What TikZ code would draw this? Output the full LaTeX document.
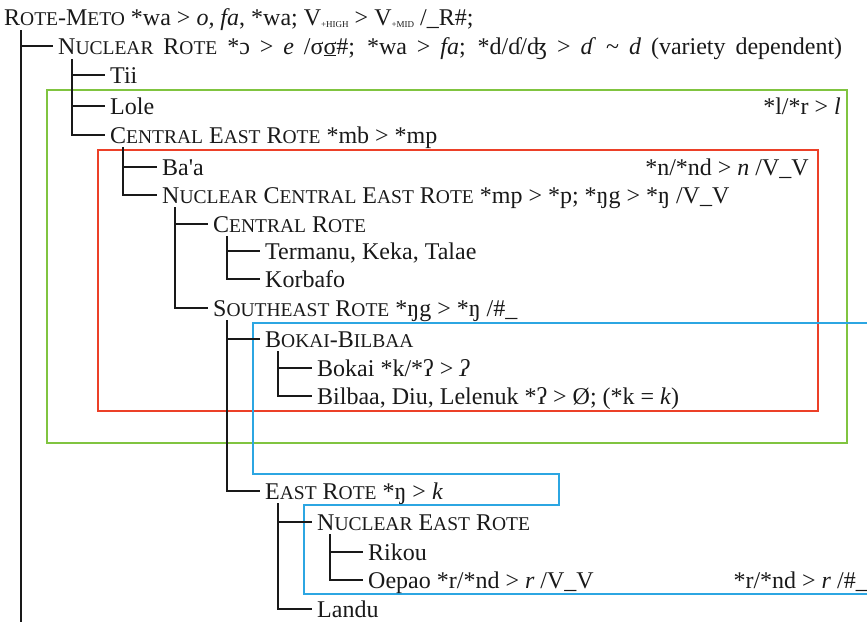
\documentclass[tikz,border=0pt]{standalone}
\usepackage{fontspec}
\setmainfont{Liberation Serif}
\usetikzlibrary{calc}
\definecolor{gboxc}{RGB}{128,196,64}
\definecolor{rboxc}{RGB}{236,64,40}
\definecolor{bboxc}{RGB}{44,166,226}
\definecolor{inkc}{RGB}{25,25,25}
\newcommand\smc[1]{{\fontsize{19.5}{19.5}\selectfont #1}}
\newcommand\subsc[1]{\raisebox{-2.5pt}{\fontsize{9}{9}\selectfont #1}}
\tikzset{
  lbl/.style={inner sep=0pt, anchor=west, text height=18pt, text depth=2pt, text=inkc,
              font=\fontsize{24}{24}\selectfont},
  rulelbl/.style={lbl, anchor=east},
  tree/.style={draw=inkc, line width=1.5pt},
  gbox/.style={draw=gboxc, line width=2.4pt},
  rbox/.style={draw=rboxc, line width=2.4pt},
  bbox/.style={draw=bboxc, line width=2.4pt},
}
\begin{document}
\begin{tikzpicture}[x=1pt,y=-1pt]
\useasboundingbox (0,0) rectangle (867,622);
% coloured boxes
\draw[gbox] (47,90) rectangle (847,443);
\draw[rbox] (98,150) rectangle (818,411);
\draw[bbox] (867,323) -- (253,323) -- (253,474) -- (559,474) -- (559,505) -- (304,505) -- (304,594) -- (867,594);
% nodes
\node[lbl] (rm) at (4,17) {R\smc{OTE}-M\smc{ETO} *wa > \textit{o, fa}, *wa; V\subsc{+HIGH} > V\subsc{+MID} /\_R\#;};
\node[lbl] (nr) at (58,46) {\makebox[784pt][s]{N\smc{UCLEAR} R\smc{OTE} *ɔ > \textit{e} /σ\underline{σ}\#; *wa > \textit{fa}; *d/ɗ/ʤ > \textit{ɗ} \textasciitilde{} \textit{d} (variety dependent)}};
\node[lbl] (tii) at (110,75) {Tii};
\node[lbl] (lole) at (110,106) {Lole};
\node[lbl] (cer) at (110,135) {C\smc{ENTRAL} E\smc{AST} R\smc{OTE} *mb > *mp};
\node[lbl] (baa) at (162,167) {Ba\textquotesingle a};
\node[lbl] (ncer) at (162,195) {N\smc{UCLEAR} C\smc{ENTRAL} E\smc{AST} R\smc{OTE} *mp > *p; *ŋg > *ŋ /V\_V};
\node[lbl] (cr) at (213,224) {C\smc{ENTRAL} R\smc{OTE}};
\node[lbl] (term) at (265,251) {Termanu, Keka, Talae};
\node[lbl] (korb) at (265,279) {Korbafo};
\node[lbl] (ser) at (213,308) {S\smc{OUTHEAST} R\smc{OTE} *ŋg > *ŋ /\#\_};
\node[lbl] (bb) at (265,339) {B\smc{OKAI}-B\smc{ILBAA}};
\node[lbl] (bokai) at (317,368) {Bokai *k/*ʔ > \textit{ʔ}};
\node[lbl] (bilb) at (317,396) {Bilbaa, Diu, Lelenuk *ʔ > Ø; (*k = \textit{k})};
\node[lbl] (er) at (265,491) {E\smc{AST} R\smc{OTE} *ŋ > \textit{k}};
\node[lbl] (ner) at (317,522) {N\smc{UCLEAR} E\smc{AST} R\smc{OTE}};
\node[lbl] (rik) at (368,552) {Rikou};
\node[lbl] (oep) at (368,580) {Oepao *r/*nd > \textit{r} /V\_V};
\node[lbl] (lan) at (317,609) {Landu};
% sound-change labels of the boxes
\node[rulelbl] (lrule) at (841,106) {*l/*r > \textit{l}};
\node[rulelbl] (nrule) at (809,167) {*n/*nd > \textit{n} /V\_V};
\node[rulelbl] (rrule) at (868,580) {*r/*nd > \textit{r} /\#\_};
% tree connectors
\coordinate (bot) at (0,622);
\coordinate (rmv) at ($(rm.west)+(17,13)$);
\draw[tree] (rmv) -- (rmv |- bot);
\draw[tree] (rmv) |- ([xshift=-5pt]nr.west);
\foreach \c in {tii,lole,cer}
  \draw[tree] ($(nr.west)+(14,13)$) |- ([xshift=-5pt]\c.west);
\foreach \c in {baa,ncer}
  \draw[tree] ($(cer.west)+(13,12)$) |- ([xshift=-5pt]\c.west);
\foreach \c in {cr,ser}
  \draw[tree] ($(ncer.west)+(13,12)$) |- ([xshift=-5pt]\c.west);
\foreach \c in {term,korb}
  \draw[tree] ($(cr.west)+(14,12)$) |- ([xshift=-5pt]\c.west);
\foreach \c in {bb,er}
  \draw[tree] ($(ser.west)+(14,12)$) |- ([xshift=-5pt]\c.west);
\foreach \c in {bokai,bilb}
  \draw[tree] ($(bb.west)+(13,12)$) |- ([xshift=-5pt]\c.west);
\foreach \c in {ner,lan}
  \draw[tree] ($(er.west)+(13,12)$) |- ([xshift=-5pt]\c.west);
\foreach \c in {rik,oep}
  \draw[tree] ($(ner.west)+(13,12)$) |- ([xshift=-5pt]\c.west);
\end{tikzpicture}
\end{document}
